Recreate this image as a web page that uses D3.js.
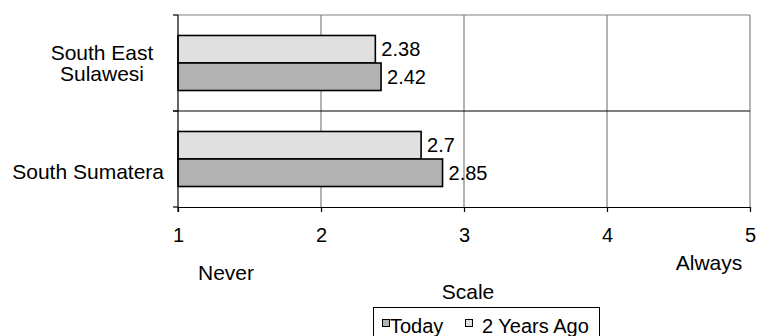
<!DOCTYPE html>
<html>
<head>
<meta charset="utf-8">
<script src="https://cdn.jsdelivr.net/npm/d3@7/dist/d3.min.js"></script>
<style>
  html, body { margin: 0; padding: 0; background: #fff; }
  svg { display: block; }
  text { font-family: "Liberation Sans", Arial, sans-serif; font-size: 20px; fill: #000; }
  text.big { font-size: 21px; }
</style>
</head>
<body>
<svg id="chart" width="757" height="336"></svg>
<script>
// Regions compared, and their labels (multi-line where the name wraps)
const categories = ["South East Sulawesi", "South Sumatera"];
const categoryLines = [["South East", "Sulawesi"], ["South Sumatera"]];
// Series, drawn top to bottom inside each region
const seriesNames = ["2 Years Ago", "Today"];
const valuesTwoYearsAgo = [2.38, 2.7];
const valuesToday = [2.42, 2.85];
// Frequency scale 1 (Never) to 5 (Always)
const tickValues = [1, 2, 3, 4, 5];
const legendOrder = ["Today", "2 Years Ago"];

const colors = { "Today": "#b2b2b2", "2 Years Ago": "#e0e0e0" };
const seriesValues = { "2 Years Ago": valuesTwoYearsAgo, "Today": valuesToday };

const svg = d3.select("#chart");
const plotLeft = 178, plotRight = 750, plotTop = 15, plotBottom = 207;

const x = d3.scaleLinear().domain([1, 5]).range([plotLeft, plotRight]);
const y = d3.scaleBand().domain(categories).range([plotTop, plotBottom]).padding(0);
const ySeries = d3.scaleBand().domain(seriesNames)
  .range([0, y.bandwidth()]).paddingInner(0).paddingOuter(0.745);

// Vertical gridlines
svg.append("g").selectAll("line")
  .data(tickValues.slice(1))
  .join("line")
  .attr("x1", d => x(d)).attr("x2", d => x(d))
  .attr("y1", plotTop).attr("y2", plotBottom)
  .attr("stroke", "#808080").attr("stroke-width", 1.2);

// Top border of the plot area
svg.append("line")
  .attr("x1", plotLeft).attr("x2", plotRight).attr("y1", plotTop).attr("y2", plotTop)
  .attr("stroke", "#808080").attr("stroke-width", 1.2);

// Separators between regions
svg.append("g").selectAll("line")
  .data(categories.slice(1))
  .join("line")
  .attr("x1", plotLeft - 5).attr("x2", plotRight)
  .attr("y1", d => y(d)).attr("y2", d => y(d))
  .attr("stroke", "#000").attr("stroke-width", 1.2);

// Bars
const groups = svg.append("g").selectAll("g")
  .data(categories)
  .join("g")
  .attr("transform", d => `translate(0,${y(d)})`);

groups.selectAll("rect")
  .data((c, i) => seriesNames.map(s => ({ s, v: seriesValues[s][i] })))
  .join("rect")
  .attr("x", x(1))
  .attr("y", d => ySeries(d.s))
  .attr("width", d => x(d.v) - x(1))
  .attr("height", ySeries.bandwidth())
  .attr("fill", d => colors[d.s])
  .attr("stroke", "#000").attr("stroke-width", 1.6);

// Value labels
groups.selectAll("text.value")
  .data((c, i) => seriesNames.map(s => ({ s, v: seriesValues[s][i] })))
  .join("text")
  .attr("class", "value")
  .attr("x", d => x(d.v) + 6)
  .attr("y", d => ySeries(d.s) + ySeries.bandwidth() / 2)
  .attr("dy", "0.36em")
  .text(d => d.v);

// Bottom axis
const xAxis = svg.append("g")
  .attr("transform", `translate(0,${plotBottom})`)
  .call(d3.axisBottom(x).tickValues(tickValues).tickFormat(d3.format("d"))
    .tickSize(5).tickSizeOuter(0).tickPadding(16));
xAxis.select(".domain").attr("stroke", "#000").attr("stroke-width", 1.2);
xAxis.selectAll(".tick line").attr("stroke", "#000").attr("stroke-width", 1.2);
xAxis.selectAll(".tick text")
  .attr("font-family", "Liberation Sans, Arial, sans-serif")
  .attr("font-size", 20).attr("fill", "#000");

// Left axis line with ticks at region boundaries
svg.append("line")
  .attr("x1", plotLeft).attr("x2", plotLeft).attr("y1", plotTop).attr("y2", plotBottom + 5)
  .attr("stroke", "#000").attr("stroke-width", 1.2);
const boundaries = categories.map(c => y(c)).concat([y(categories[categories.length - 1]) + y.bandwidth()]);
svg.append("g").selectAll("line")
  .data(boundaries)
  .join("line")
  .attr("x1", plotLeft - 5).attr("x2", plotLeft)
  .attr("y1", d => d).attr("y2", d => d)
  .attr("stroke", "#000").attr("stroke-width", 1.2);

// Region labels
const catLabels = svg.append("g").selectAll("text")
  .data(categories)
  .join("text")
  .attr("class", "big")
  .attr("text-anchor", "middle");
catLabels.each(function (c, i) {
  const lines = categoryLines[i];
  const t = d3.select(this);
  if (lines.length > 1) {
    const cy = y(c) + y.bandwidth() / 2;
    lines.forEach((ln, k) => {
      t.append("tspan")
        .attr("x", 102)
        .attr("y", cy + (k - (lines.length - 1) / 2) * 21)
        .attr("dy", "0.36em")
        .text(ln);
    });
  } else {
    t.attr("text-anchor", "end")
      .attr("x", 164)
      .attr("y", y(c) + y.bandwidth() / 2 + 12)
      .attr("dy", "0.36em")
      .text(lines[0]);
  }
});

// Scale annotations
svg.append("text").attr("class", "big").attr("x", 226).attr("y", 280).attr("text-anchor", "middle").text("Never");
svg.append("text").attr("class", "big").attr("x", 468).attr("y", 299).attr("text-anchor", "middle").text("Scale");
svg.append("text").attr("class", "big").attr("x", 709).attr("y", 270).attr("text-anchor", "middle").text("Always");

// Legend
const legend = svg.append("g");
legend.append("rect")
  .attr("x", 373.5).attr("y", 307.5).attr("width", 226).attr("height", 40)
  .attr("fill", "#fff").attr("stroke", "#000").attr("stroke-width", 1);
const legendX = [382, 465];
legendOrder.forEach((s, i) => {
  legend.append("rect")
    .attr("x", legendX[i] + 0.5).attr("y", 319.5).attr("width", 7).attr("height", 7)
    .attr("fill", colors[s]).attr("stroke", "#000").attr("stroke-width", 1);
  legend.append("text")
    .attr("x", legendX[i] + (i === 0 ? 8 : 17)).attr("y", 333)
    .text(s);
});
</script>
</body>
</html>
